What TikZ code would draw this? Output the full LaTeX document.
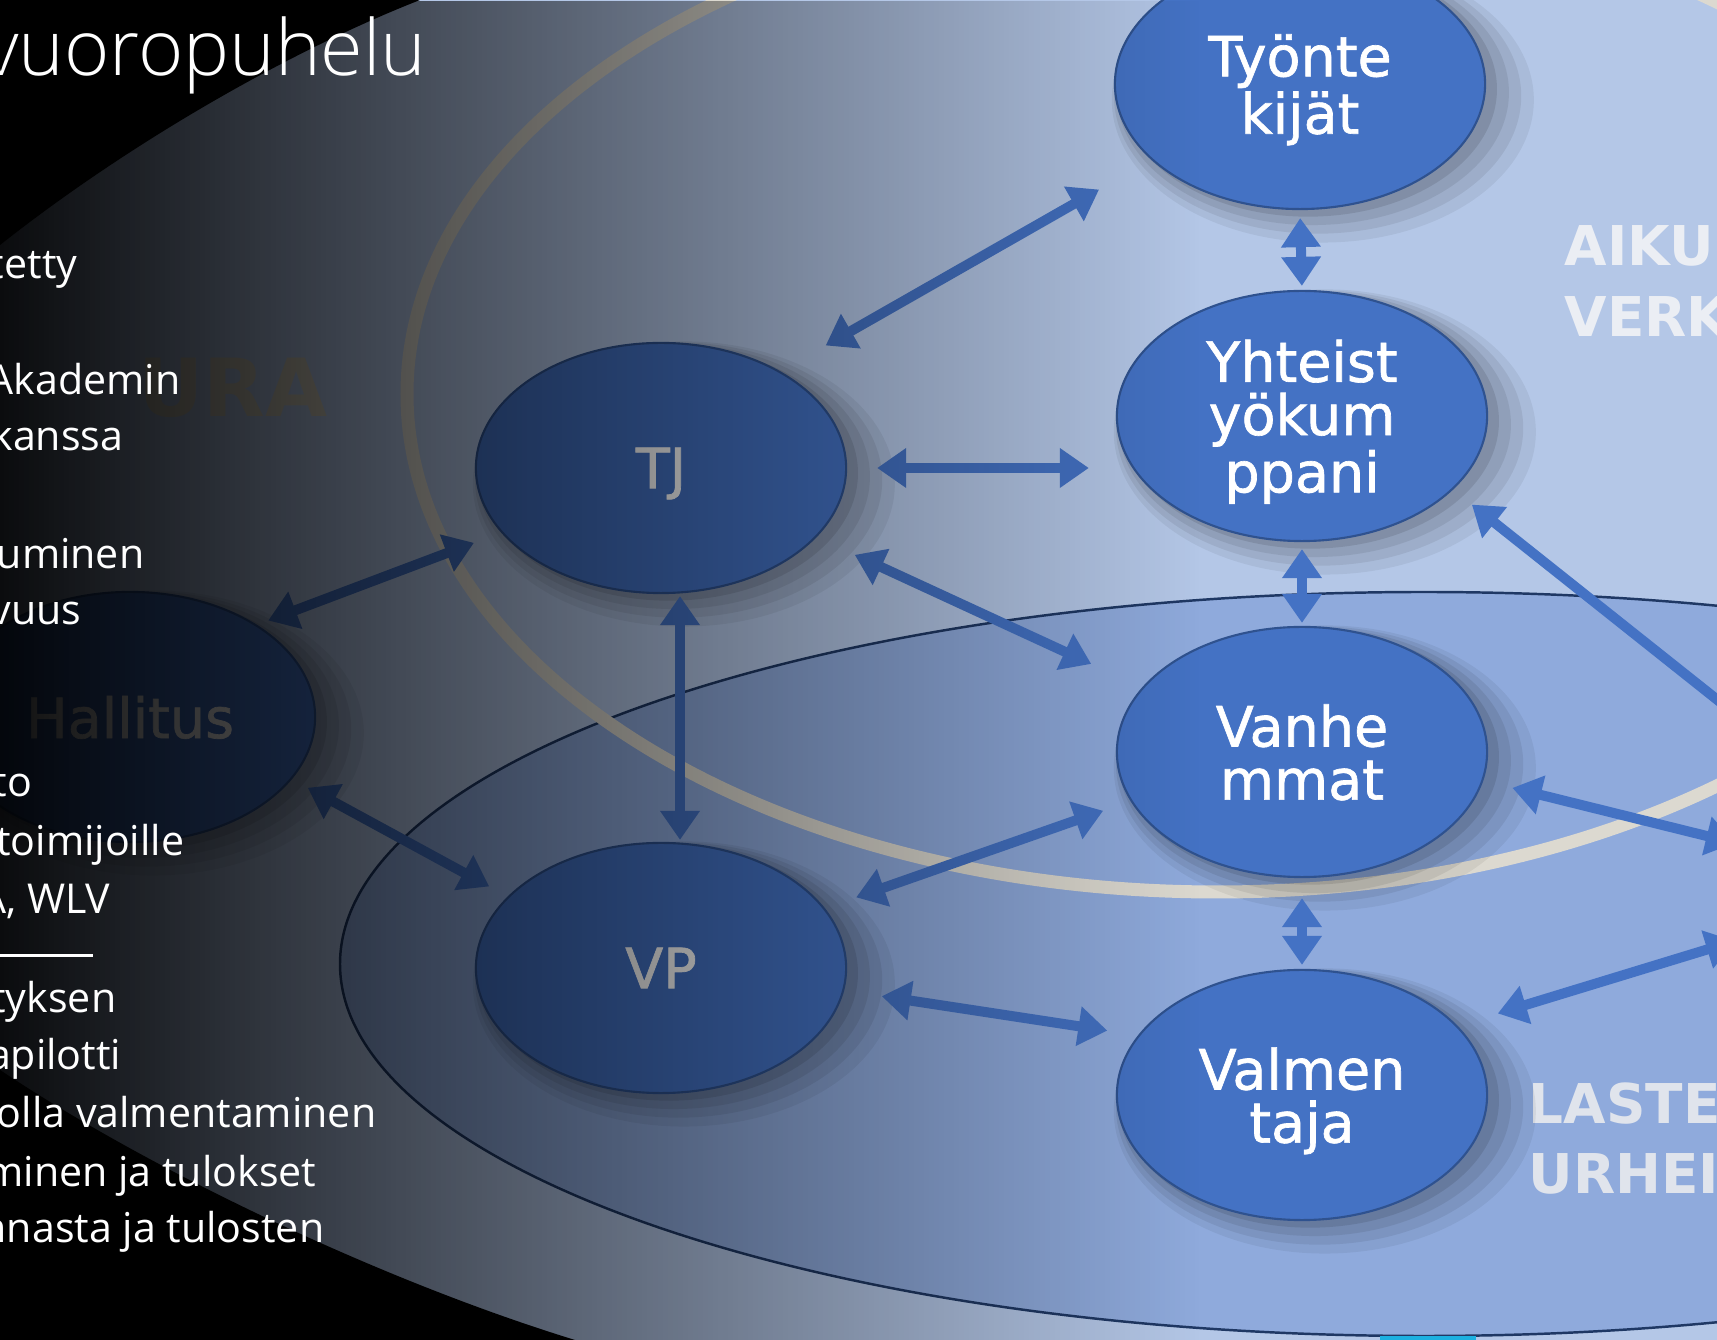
\documentclass[tikz,border=0pt]{standalone}
\usepackage{fontspec}
\setmainfont{Open Sans}
\newfontfamily\nodefont{DejaVu Sans}[FakeBold=1.2]
\newfontfamily\areafont{DejaVu Sans}
\IfFontExistsTF{Open Sans Light}{\newfontfamily\titlefont{Open Sans Light}}{\newfontfamily\titlefont{Open Sans}}
\usetikzlibrary{calc, shapes.geometric, arrows.meta, shadows, fadings}

\definecolor{nodeblue}{HTML}{4472C4}
\definecolor{nodeline}{HTML}{2F528F}
\definecolor{outerblue}{HTML}{B4C7E7}
\definecolor{innerblue}{HTML}{8FAADC}
\definecolor{innerline}{HTML}{1F3864}
\definecolor{ringgrey}{HTML}{DCD9D0}
\definecolor{seuragrey}{HTML}{CFCABA}
\definecolor{aikugrey}{HTML}{EBEEF4}
\definecolor{lastgrey}{HTML}{E0E4EC}
\definecolor{slidecyan}{HTML}{1CB0E0}

\tikzfading[name=darkleft, left color=transparent!6, middle color=transparent!52, right color=transparent!100]

\tikzset{
  rolenode/.style={ellipse, fill=nodeblue, draw=nodeline, line width=0.6pt,
    minimum width=3.7cm, minimum height=2.5cm, inner sep=0pt, text=white,
    align=center, text depth=0pt, font=\nodefont\fontsize{15.8pt}{15.1pt}\selectfont,
    general shadow={fill=black, opacity=0.06, shadow scale=1.14, shadow xshift=0.20cm, shadow yshift=-0.14cm},
    general shadow={fill=black, opacity=0.07, shadow scale=1.10, shadow xshift=0.16cm, shadow yshift=-0.11cm},
    general shadow={fill=black, opacity=0.08, shadow scale=1.06, shadow xshift=0.12cm, shadow yshift=-0.08cm},
    general shadow={fill=black, opacity=0.10, shadow scale=1.02, shadow xshift=0.08cm, shadow yshift=-0.05cm}},
  link/.style={draw=nodeblue, line width=0.1cm,
    {Triangle[width=0.38cm,length=0.29cm]}-{Triangle[width=0.38cm,length=0.29cm]}},
  bodytext/.style={anchor=base east, inner sep=0pt, text=white, font=\fontsize{11.7pt}{16pt}\selectfont},
  arealabel/.style={anchor=base west, inner sep=0pt, text=aikugrey, font=\areafont\bfseries\fontsize{15.6pt}{18pt}\selectfont}
}

\begin{document}
\begin{tikzpicture}[x=0.01cm, y=-0.01cm]
\useasboundingbox (0,0) rectangle (1717,1340);
\clip (0,0) rectangle (1717,1340);
% diagram background
\fill[outerblue] (0,0) rectangle (1717,1340);
\draw[innerline, line width=0.7pt, fill=innerblue] (1424,964) ellipse [x radius=1084, y radius=372];
\draw[ringgrey, line width=0.13cm] (1217,394) ellipse [x radius=810, y radius=498];
\node[anchor=base east, inner sep=0pt, text=seuragrey, font=\areafont\bfseries\fontsize{22.8pt}{24pt}\selectfont] (seura) at (328,417) {URA};
\node[arealabel] (aiku) at (1564,266) {AIKU};
\node[arealabel] (verk) at (1564,337) {VERK};
\node[arealabel, text=lastgrey] (laste) at (1528,1124) {LASTE};
\node[arealabel, text=lastgrey] (urhei) at (1528,1194) {URHEI};

% roles
\node[rolenode] (tyo) at (1300,84) {Työnte\\kijät};
\node[rolenode] (yht) at (1302,416) {Yhteist\\yökum\\ppani};
\node[rolenode] (van) at (1302,752) {Vanhe\\mmat};
\node[rolenode] (val) at (1302,1095) {Valmen\\taja};
\node[rolenode] (tj) at (661,468) {TJ};
\node[rolenode] (vp) at (661,968) {VP};
\node[rolenode] (hal) at (130,717) {Hallitus};
\coordinate (offyht) at (1837,795);
\coordinate (offvan) at (1735,843);
\coordinate (offval) at (1735,941);

\draw[link, shorten <=0.52cm, shorten >=0.60cm] (tj.39) -- (tyo.207.5);
\draw[link, shorten <=0.30cm, shorten >=0.27cm] (tj.east) -- (tj.east -| yht.west);
\draw[link, shorten <=0.42cm, shorten >=0.56cm] (tj.336) -- (van.158);
\draw[link, shorten <=0.02cm, shorten >=0.02cm] ([xshift=0.19cm]tj.south) -- ([xshift=0.19cm]vp.north);
\draw[link, shorten <=0.29cm, shorten >=0.12cm] (tj.202) -- (hal.36);
\draw[link, shorten <=0.18cm, shorten >=0.21cm] (hal.339) -- (vp.155);
\draw[link, shorten <=0.33cm, shorten >=0.29cm] (vp.20.5) -- (van.196);
\draw[link, shorten <=0.38cm, shorten >=0.31cm] (vp.353) -- (val.160);
\draw[link, shorten <=0.08cm, shorten >=0.04cm] (tyo.south) -- (yht.north);
\draw[link, shorten <=0.07cm, shorten >=0.03cm] (yht.south) -- (van.north);
\draw[link, shorten <=0.20cm, shorten >=0.04cm] (van.south) -- (val.north);
\draw[link, shorten <=0.24cm] (yht.334.6) -- (offyht);
\draw[link, shorten <=0.30cm] (van.351.3) -- (offvan);
\draw[link, shorten <=0.42cm] (val.24.7) -- (offval);

% dark slide overlay
\fill[black, path fading=darkleft] (0,0) rectangle (1200,1340);
\fill[black] (0,0) -- (420,0) .. controls (280,55) and (120,150) .. (0,245) -- cycle;
\fill[black] (0,1340) -- (0,1070) .. controls (150,1170) and (380,1280) .. (575,1340) -- cycle;

% slide text
\node[anchor=base east, inner sep=0pt, text=white, font=\titlefont\fontsize{22pt}{26pt}\selectfont] (title) at (427,76) {vuoropuhelu};
\node[bodytext] (l1) at (78,279) {tetty};
\node[bodytext] (l2) at (181,395) {Akademin};
\node[bodytext] (l3) at (124,451) {kanssa};
\node[bodytext] (l4) at (145,569) {uminen};
\node[bodytext] (l5) at (82,625) {vuus};
\node[bodytext] (l6) at (33,797) {to};
\node[bodytext] (l7) at (185,856) {toimijoille};
\node[bodytext] (l8) at (111,914) {A, WLV};
\draw[white, line width=0.03cm] (0,956) -- (93,956);
\node[bodytext] (l9) at (117,1013) {tyksen};
\node[bodytext] (l10) at (122,1070) {apilotti};
\node[bodytext] (l11) at (377,1128) {olla valmentaminen};
\node[bodytext] (l12) at (317,1187) {minen ja tulokset};
\node[bodytext] (l13) at (325,1243) {nnasta ja tulosten};
\fill[slidecyan] (1380,1336) rectangle (1476,1340);
\end{tikzpicture}
\end{document}
